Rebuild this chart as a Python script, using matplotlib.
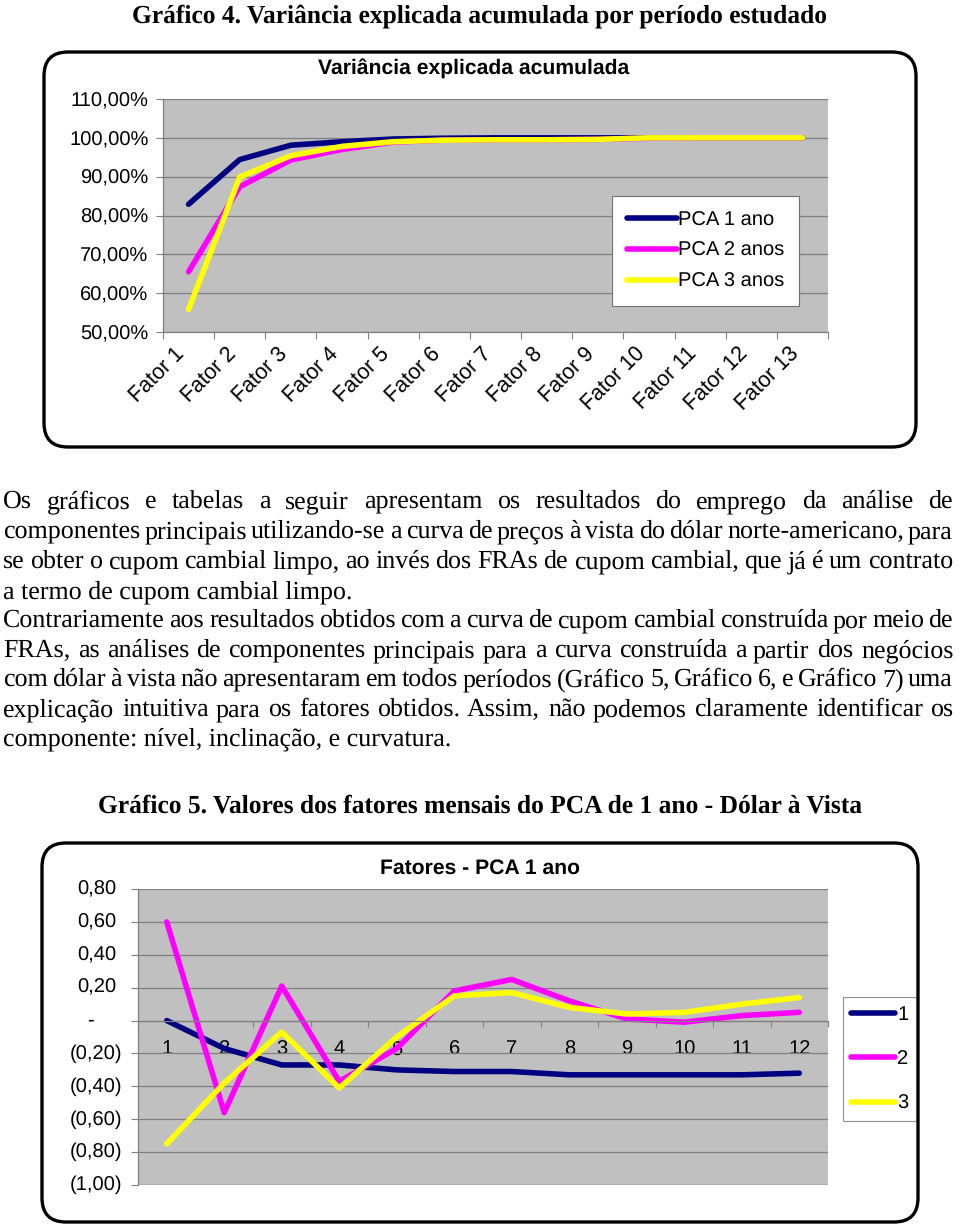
import numpy as np
import matplotlib
matplotlib.use("Agg")
import matplotlib.pyplot as plt
from matplotlib.patches import FancyBboxPatch
from matplotlib.transforms import IdentityTransform, blended_transform_factory

W, H = 960, 1227

# --- data -------------------------------------------------------------
fatores = ["Fator %d" % i for i in range(1, 14)]
pca_1ano = [82.9, 94.4, 98.1, 99.0, 99.7, 99.9, 100.0, 100.0, 100.0, 100.0, 100.0, 100.0, 100.0]
pca_2anos = [65.5, 87.4, 94.3, 97.0, 98.9, 99.4, 99.5, 99.5, 99.6, 99.9, 100.0, 100.0, 100.0]
pca_3anos = [55.8, 89.9, 95.4, 97.8, 99.0, 99.4, 99.5, 99.5, 99.6, 100.0, 100.0, 100.0, 100.0]

meses = [str(i) for i in range(1, 13)]
fator1 = [0.00, -0.17, -0.27, -0.27, -0.30, -0.31, -0.31, -0.33, -0.33, -0.33, -0.33, -0.32]
fator2 = [0.60, -0.56, 0.21, -0.37, -0.17, 0.18, 0.25, 0.12, 0.01, -0.01, 0.03, 0.05]
fator3 = [-0.75, -0.38, -0.07, -0.41, -0.10, 0.15, 0.17, 0.08, 0.04, 0.05, 0.10, 0.14]

y2_ticks = [0.8, 0.6, 0.4, 0.2, 0.0, -0.2, -0.4, -0.6, -0.8, -1.0]
y2_labels = ["0,80", "0,60", "0,40", "0,20", "-", "(0,20)", "(0,40)", "(0,60)", "(0,80)", "(1,00)"]

par1 = ["Os gráficos e tabelas a seguir apresentam os resultados do emprego da análise de",
        "componentes principais utilizando-se a curva de preços à vista do dólar norte-americano, para",
        "se obter o cupom cambial limpo, ao invés dos FRAs de cupom cambial, que já é um contrato",
        "a termo de cupom cambial limpo."]
par2 = ["Contrariamente aos resultados obtidos com a curva de cupom cambial construída por meio de",
        "FRAs, as análises de componentes principais para a curva construída a partir dos negócios",
        "com dólar à vista não apresentaram em todos períodos (Gráfico 5, Gráfico 6, e Gráfico 7) uma",
        "explicação intuitiva para os fatores obtidos. Assim, não podemos claramente identificar os",
        "componente: nível, inclinação, e curvatura."]

cores = ["#000080", "#FF00FF", "#FFFF00"]
SANS = "Liberation Sans"
SERIF = "Liberation Serif"
FS = 14.5

plt.rcParams["text.hinting"] = "no_hinting"

fig = plt.figure(figsize=(W / 100, H / 100), dpi=100)
renderer = fig.canvas.get_renderer()


def rect(x0, y0, x1, y1):
    return [x0 / W, 1 - y1 / H, (x1 - x0) / W, (y1 - y0) / H]


def frame(x0, y0, x1, y1):
    p = FancyBboxPatch((x0, H - y1), x1 - x0, y1 - y0,
                       boxstyle="round,pad=0,rounding_size=24",
                       transform=IdentityTransform(), fc="none", ec="black", lw=2.4)
    fig.patches.append(p)


# --- Grafico 4 --------------------------------------------------------
fig.text(480 / W, 1 - 22 / H, "Gráfico 4. Variância explicada acumulada por período estudado",
         family=SERIF, weight="bold", fontsize=18.4, ha="center", va="baseline")
frame(44, 52, 916, 447)

ax1 = fig.add_axes(rect(163, 99, 828, 332))
ax1.set_facecolor("#C0C0C0")
x1 = np.arange(len(fatores))
for serie, cor, nome in zip([pca_1ano, pca_2anos, pca_3anos], cores,
                            ["PCA 1 ano", "PCA 2 anos", "PCA 3 anos"]):
    ax1.plot(x1, np.array(serie) / 100, color=cor, lw=4, label=nome, solid_capstyle="round")
ax1.set_xlim(-0.5, len(fatores) - 0.5)
ax1.set_ylim(0.5, 1.1)
ax1.set_yticks(np.arange(0.5, 1.101, 0.1))
ax1.set_yticklabels(["%d,00%%" % round(v * 100) for v in np.arange(0.5, 1.101, 0.1)],
                    family=SANS, fontsize=FS)
ax1.yaxis.grid(True, color="#808080", lw=0.9)
ax1.set_axisbelow(True)
ax1.set_xticks(np.arange(-0.5, len(fatores), 1.0))
ax1.set_xticklabels([])
ax1.set_xticks(x1, minor=True)
ax1.set_xticklabels(fatores, minor=True, rotation=45, ha="right", va="top",
                    family=SANS, fontsize=15.5)
ax1.tick_params(axis="x", which="minor", length=0, pad=8)
ax1.tick_params(axis="both", which="major", length=5, color="#808080", pad=5.5)
for s in ax1.spines.values():
    s.set_color("#808080")
    s.set_linewidth(0.9)
ax1.spines["top"].set_visible(False)
ax1.spines["right"].set_visible(False)
fig.text(474 / W, 1 - 69 / H, "Variância explicada acumulada", family=SANS, weight="bold",
         fontsize=15.2, ha="center", va="center")
leg1 = ax1.legend(loc="center", bbox_to_anchor=(705.5 / W, 1 - 251 / H),
                  bbox_transform=fig.transFigure, prop={"family": SANS, "size": FS},
                  frameon=True, fancybox=False, edgecolor="#707070", framealpha=1,
                  handlelength=2.5, handletextpad=0.05, labelspacing=0.6,
                  borderpad=0.75, borderaxespad=0)
leg1.get_frame().set_linewidth(0.8)

# --- texto ------------------------------------------------------------
body_size = 18.7
left, right = 3, 953


def linha(texto, base, justificar):
    if not justificar:
        fig.text(left / W, 1 - base / H, texto, family=SERIF, fontsize=body_size, va="baseline")
        return
    palavras = texto.split(" ")
    objs = [fig.text(0, 1 - base / H, p, family=SERIF, fontsize=body_size, va="baseline")
            for p in palavras]
    larg = [o.get_window_extent(renderer).width for o in objs]
    gap = (right - left - sum(larg)) / (len(palavras) - 1)
    x = left
    for o, w in zip(objs, larg):
        o.set_x(round(x) / W)
        x += w + gap


bases1 = [508, 538, 568, 598]
bases2 = [627, 657, 686, 716, 745]
for i, (t, b) in enumerate(zip(par1, bases1)):
    linha(t, b, i < len(par1) - 1)
for i, (t, b) in enumerate(zip(par2, bases2)):
    linha(t, b, i < len(par2) - 1)

# --- Grafico 5 --------------------------------------------------------
fig.text(480 / W, 1 - 813 / H, "Gráfico 5. Valores dos fatores mensais do PCA de 1 ano - Dólar à Vista",
         family=SERIF, weight="bold", fontsize=18.4, ha="center", va="baseline")
frame(42, 843, 918, 1222)

ax2 = fig.add_axes(rect(138, 889, 828, 1185))
ax2.set_facecolor("#C0C0C0")
x2 = np.arange(1, len(meses) + 1)
for serie, cor, nome in zip([fator1, fator2, fator3], cores, ["1", "2", "3"]):
    ax2.plot(x2, serie, color=cor, lw=4, label=nome, solid_capstyle="round")
ax2.set_xlim(0.5, len(meses) + 0.5)
ax2.set_ylim(-1.0, 0.8)
ax2.set_yticks(y2_ticks)
ax2.set_yticklabels([])
ax2.yaxis.grid(True, color="#808080", lw=0.9)
ax2.set_axisbelow(True)
ax2.tick_params(axis="y", length=5, color="#808080")
trans = blended_transform_factory(fig.transFigure, ax2.transData)
for v, lab in zip(y2_ticks, y2_labels):
    if lab == "-":
        fig.text(90 / W, v, lab, transform=trans, family=SANS, fontsize=FS,
                 ha="center", va="center")
    elif lab.startswith("("):
        fig.text(122 / W, v, lab, transform=trans, family=SANS, fontsize=FS,
                 ha="right", va="center")
    else:
        fig.text(116 / W, v, lab, transform=trans, family=SANS, fontsize=FS,
                 ha="right", va="center")
ax2.spines["bottom"].set_position(("data", 0))
ax2.set_xticks(np.arange(0.5, len(meses) + 1, 1.0))
ax2.set_xticklabels([])
ax2.set_xticks(x2, minor=True)
ax2.set_xticklabels(meses, minor=True, family=SANS, fontsize=FS)
ax2.tick_params(axis="x", which="minor", length=0, pad=14)
ax2.tick_params(axis="x", which="major", length=4, color="#808080")
for s in ax2.spines.values():
    s.set_color("#808080")
    s.set_linewidth(0.9)
ax2.spines["top"].set_visible(False)
ax2.spines["right"].set_visible(False)
ax2.axhline(-1.0, color="#808080", lw=0.9)
fig.text(480 / W, 1 - 868 / H, "Fatores - PCA 1 ano", family=SANS, weight="bold",
         fontsize=15.2, ha="center", va="center")
leg2 = ax2.legend(loc="upper left", bbox_to_anchor=(843 / W, 1 - 997 / H),
                  bbox_transform=fig.transFigure, prop={"family": SANS, "size": FS},
                  frameon=True, fancybox=False, edgecolor="#909090", framealpha=1,
                  handlelength=2.2, handletextpad=0.1, labelspacing=1.3,
                  borderpad=0.4, borderaxespad=0)
leg2.get_frame().set_linewidth(0.8)

fig.savefig("out.png", dpi=100)
